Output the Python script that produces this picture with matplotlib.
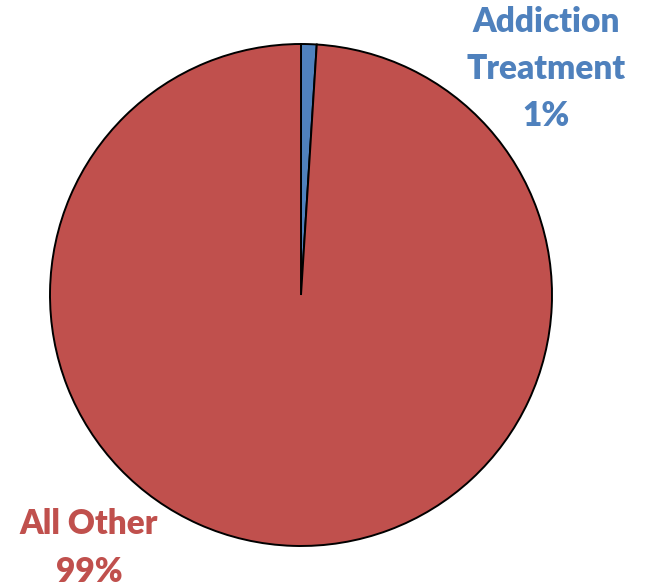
import matplotlib
matplotlib.use('Agg')
import matplotlib.pyplot as plt

labels = ['Addiction\nTreatment', 'All Other']
shares = [1, 99]
colors = ['#4F81BD', '#C0504D']

W, H = 645, 586
fig = plt.figure(figsize=(W / 100, H / 100), dpi=100)
ax = fig.add_axes([0, 0, 1, 1])

# pie in pixel coordinates, y measured from the bottom
cx, cy, r = 301, H - 295, 251
ax.pie(shares, colors=colors, startangle=90, counterclock=False,
       center=(cx, cy), radius=r, frame=True,
       wedgeprops=dict(edgecolor='black', linewidth=1.4))
ax.set_xlim(0, W)
ax.set_ylim(0, H)
ax.set_aspect('equal')
ax.axis('off')

font = dict(family='Lato', fontweight='heavy', fontsize=24, ha='center', va='center',
            linespacing=1.58)
ax.text(546, H - 69, f'{labels[0]}\n{shares[0]}%', color=colors[0], **font)
ax.text(89, H - 548, f'{labels[1]}\n{shares[1]}%', color=colors[1], **font)

fig.savefig('out.png', dpi=100)
